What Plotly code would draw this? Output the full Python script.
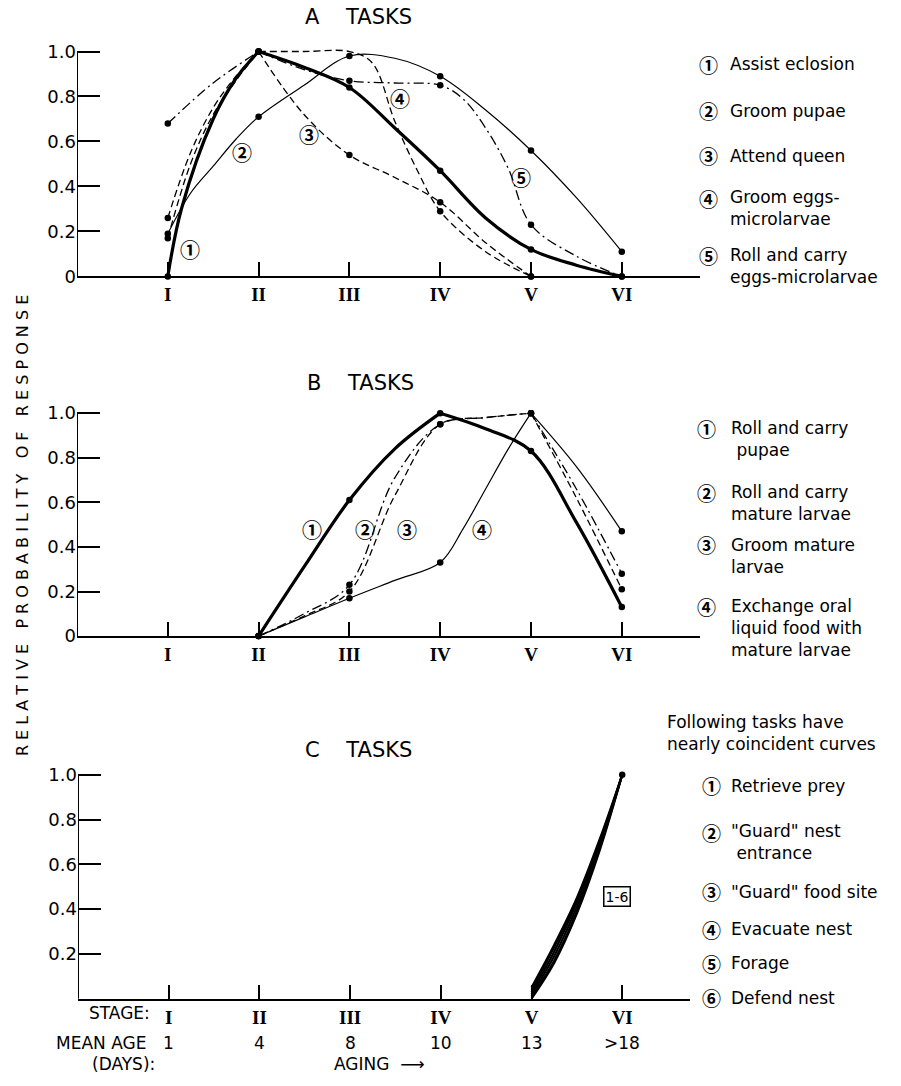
import plotly.graph_objects as go

# ---------------- data ----------------
stage_vals = [1, 2, 3, 4, 5, 6]
stage_labels = ["I", "II", "III", "IV", "V", "VI"]
mean_age = ["1", "4", "8", "10", "13", ">18"]

# Panel A (curves; dots at whole stages)
a1_x = [1, 1.15, 1.5, 1.75, 2, 2.5, 3, 3.5, 4, 4.5, 5, 5.5, 6]
a1_y = [0.0, 0.30, 0.70, 0.88, 1.0, 0.93, 0.84, 0.66, 0.47, 0.26, 0.12, 0.05, 0.0]
a2_x = [1, 1.25, 1.5, 1.75, 2, 2.5, 3, 3.5, 4, 4.5, 5, 5.5, 6]
a2_y = [0.19, 0.37, 0.49, 0.61, 0.71, 0.85, 0.98, 0.97, 0.89, 0.74, 0.56, 0.35, 0.11]
a3_x = [1, 1.25, 1.5, 1.75, 2, 2.5, 3, 3.5, 4, 4.5, 5]
a3_y = [0.26, 0.55, 0.75, 0.89, 1.0, 0.72, 0.54, 0.44, 0.33, 0.15, 0.0]
a4_x = [1, 1.25, 1.5, 1.75, 2, 2.5, 3, 3.25, 3.5, 3.75, 4, 4.5, 5]
a4_y = [0.17, 0.50, 0.72, 0.87, 1.0, 1.0, 1.0, 0.95, 0.69, 0.47, 0.29, 0.11, 0.0]
a5_x = [1, 1.5, 2, 2.5, 3, 3.5, 4, 4.25, 4.5, 4.75, 5, 5.5, 6]
a5_y = [0.68, 0.86, 1.0, 0.92, 0.87, 0.86, 0.85, 0.79, 0.66, 0.48, 0.23, 0.09, 0.0]

# Panel B
b1_x = [2, 2.5, 3, 3.5, 4, 4.5, 5, 5.5, 6]
b1_y = [0.0, 0.31, 0.61, 0.84, 1.0, 0.93, 0.83, 0.51, 0.13]
b2_x = [2, 2.5, 3, 3.5, 4, 4.5, 5, 5.5, 6]
b2_y = [0.0, 0.10, 0.23, 0.71, 0.95, 0.98, 1.0, 0.66, 0.28]
b3_x = [2, 2.5, 3, 3.5, 4, 4.5, 5, 5.5, 6]
b3_y = [0.0, 0.09, 0.20, 0.63, 0.95, 0.98, 1.0, 0.62, 0.21]
b4_x = [2, 2.5, 3, 3.5, 4, 4.25, 4.5, 4.75, 5, 5.5, 6]
b4_y = [0.0, 0.085, 0.17, 0.25, 0.33, 0.48, 0.66, 0.84, 1.0, 0.76, 0.47]

# Panel C (six nearly coincident curves)
c_x = [5, 5.25, 5.5, 5.75, 6]
c1_y = [0.00, 0.16, 0.38, 0.66, 1.0]
c2_y = [0.01, 0.17, 0.39, 0.67, 1.0]
c3_y = [0.02, 0.19, 0.41, 0.68, 1.0]
c4_y = [0.03, 0.21, 0.43, 0.69, 1.0]
c5_y = [0.04, 0.23, 0.44, 0.70, 1.0]
c6_y = [0.05, 0.24, 0.45, 0.71, 1.0]

a_legend = ["Assist eclosion", "Groom pupae", "Attend queen",
            "Groom eggs-<br>microlarvae", "Roll and carry<br>eggs-microlarvae"]
b_legend = ["Roll and carry<br> pupae", "Roll and carry<br>mature larvae",
            "Groom mature<br>larvae", "Exchange oral<br>liquid food with<br>mature larvae"]
c_legend = ["Retrieve prey", "\"Guard\" nest<br> entrance", "\"Guard\" food site",
            "Evacuate nest", "Forage", "Defend nest"]
circ = ["①", "②", "③", "④", "⑤", "⑥"]

# ---------------- styling ----------------
W, H = 901, 1086
FONT = "DejaVu Sans, sans-serif"
CIRC_FONT = "Noto Sans CJK JP, DejaVu Sans, sans-serif"
ROMAN_FONT = "Liberation Serif, serif"
YTOP = 1.08  # a little head-room so curves touching 1.0 are not clipped

def px(x):
    return x / W

def py(y):
    return 1 - y / H

THICK = dict(color="black", width=3.2)
THIN = dict(color="black", width=1.2)
DASH = dict(color="black", width=1.3, dash="7px,4px")
DASHDOT = dict(color="black", width=1.3, dash="10px,4px,2px,4px")

fig = go.Figure()

def add_curve(xs, ys, line, xa, ya, dots=True, skip=(), split=None):
    if split is None:
        parts = [(xs, ys)]
    else:
        k = xs.index(split)
        parts = [(xs[:k + 1], ys[:k + 1]), (xs[k:], ys[k:])]
    for pxs, pys in parts:
        fig.add_trace(go.Scatter(x=pxs, y=pys, mode="lines",
                                 line=dict(shape="spline", smoothing=1.0, **line),
                                 xaxis=xa, yaxis=ya, showlegend=False, hoverinfo="skip"))
    if dots:
        mx = [x for x in xs if float(x).is_integer() and x not in skip]
        my = [y for x, y in zip(xs, ys) if float(x).is_integer() and x not in skip]
        fig.add_trace(go.Scatter(x=mx, y=my, mode="markers", marker=dict(color="black", size=6.5),
                                 xaxis=xa, yaxis=ya, showlegend=False, hoverinfo="skip", cliponaxis=False))

# panel A
add_curve(a2_x, a2_y, THIN, "x", "y")
add_curve(a3_x, a3_y, DASH, "x", "y", split=2)
add_curve(a4_x, a4_y, DASH, "x", "y", skip=(3,), split=2)
add_curve(a5_x, a5_y, DASHDOT, "x", "y", split=2)
add_curve(a1_x, a1_y, THICK, "x", "y", split=2)
# panel B
add_curve(b4_x, b4_y, THIN, "x2", "y2", split=5)
add_curve(b3_x, b3_y, DASH, "x2", "y2", split=5)
add_curve(b2_x, b2_y, DASHDOT, "x2", "y2", split=5)
add_curve(b1_x, b1_y, THICK, "x2", "y2", split=4)
# panel C
for cy in [c1_y, c2_y, c3_y, c4_y, c5_y, c6_y]:
    add_curve(c_x, cy, dict(color="black", width=2.2), "x3", "y3", dots=False)
fig.add_trace(go.Scatter(x=[c_x[-1]], y=[c1_y[-1]], mode="markers", marker=dict(color="black", size=6.5),
                         xaxis="x3", yaxis="y3", showlegend=False, hoverinfo="skip", cliponaxis=False))

# ---------------- axes ----------------
roman_text = ["<b>" + s + "</b>" for s in stage_labels]

def xaxis_cfg(dom, rng, anchor):
    return dict(domain=dom, range=rng, anchor=anchor, showgrid=False, zeroline=False,
                showline=True, linecolor="black", linewidth=2,
                tickmode="array", tickvals=stage_vals, ticktext=roman_text,
                ticks="inside", ticklen=14, tickwidth=1.5, tickcolor="black",
                tickfont=dict(family=ROMAN_FONT, size=19, color="black"), fixedrange=True)

def yaxis_cfg(y0pix, y1pix, anchor, vals, texts):
    top = y0pix - YTOP * (y0pix - y1pix)
    return dict(domain=[py(y0pix), py(top)], range=[0, YTOP], anchor=anchor,
                showgrid=False, zeroline=False, showline=False,
                tickmode="array", tickvals=vals, ticktext=texts,
                ticks="inside", ticklen=23, tickwidth=2, tickcolor="black",
                tickfont=dict(family=FONT, size=18, color="black"), fixedrange=True)

dAx = [px(77), px(700)]
rAx = [0, (700 - 77) / 90.8]
dCx = [px(78), px(690)]
rCx = [0, (690 - 78) / 90.7]

yvals = [0, 0.2, 0.4, 0.6, 0.8, 1.0]
ytexts = ["0", "0.2", "0.4", "0.6", "0.8", "1.0"]

fig.update_layout(
    width=W, height=H, autosize=False, margin=dict(l=0, r=0, t=0, b=0),
    paper_bgcolor="white", plot_bgcolor="white",
    xaxis=xaxis_cfg(dAx, rAx, "y"),
    yaxis=yaxis_cfg(279, 52, "x", yvals, ytexts),
    xaxis2=xaxis_cfg(dAx, rAx, "y2"),
    yaxis2=yaxis_cfg(642, 417, "x2", yvals, ytexts),
    xaxis3=xaxis_cfg(dCx, rCx, "y3"),
    yaxis3=yaxis_cfg(1008, 782, "x3", yvals[1:], ytexts[1:]),
)

# vertical axis lines, running from 0 up to the 1.0 tick
for xr, yr in [("x", "y"), ("x2", "y2"), ("x3", "y3")]:
    fig.add_shape(type="line", xref=xr, yref=yr, x0=0, x1=0, y0=0, y1=1.0,
                  line=dict(color="black", width=2))

ann = []

def txt(x, y, s, size=17, xanchor="left", family=FONT, **kw):
    ann.append(dict(x=px(x), y=py(y), xref="paper", yref="paper", text=s, showarrow=False,
                    xanchor=xanchor, yanchor="middle", align="left",
                    font=dict(family=family, size=size, color="black"), **kw))

# titles
txt(358, 17, "A    TASKS", size=21, xanchor="center")
txt(360, 387, "B    TASKS", size=21, xanchor="center")
txt(358, 757, "C    TASKS", size=21, xanchor="center")

# y title
ann.append(dict(x=px(22), y=py(531), xref="paper", yref="paper",
                text="R E L A T I V E   P R O B A B I L I T Y   O F   R E S P O N S E",
                showarrow=False, textangle=-90, xanchor="center", yanchor="middle",
                font=dict(family=FONT, size=16, color="black")))

def circled(i):
    return "<b>" + circ[i] + "</b>"

def legend_block(xc, xt, first_y, labels, step):
    for i, l in enumerate(labels):
        n = l.count("<br>") + 1
        txt(xc, first_y[i], circled(i), size=19, xanchor="center", family=CIRC_FONT)
        txt(xt, first_y[i] + step * (n - 1) / 2, l)

legend_block(708, 728, [65, 112, 157, 200, 258], a_legend, 20)
legend_block(706, 729, [432, 497, 550, 612], b_legend, 22)
txt(665, 740, "Following tasks have<br>nearly coincident curves", size=17)
legend_block(711, 729, [793, 840, 900, 938, 972, 1007], c_legend, 19)

# in-plot curve labels
def lab(x, y, s, xa, ya, family=CIRC_FONT, size=20, **kw):
    ann.append(dict(x=x, y=y, xref=xa, yref=ya, text=s, showarrow=False,
                    font=dict(family=family, size=size, color="black"), **kw))

a_lab = [(1.245, 0.12), (1.82, 0.55), (2.555, 0.63), (3.56, 0.79), (4.89, 0.44)]
for i, (x, y) in enumerate(a_lab):
    lab(x, y, circled(i), "x", "y")
b_lab = [(2.59, 0.48), (3.17, 0.48), (3.63, 0.48), (4.46, 0.48)]
for i, (x, y) in enumerate(b_lab):
    lab(x, y, circled(i), "x2", "y2")
lab(5.94, 0.455, "1-6", "x3", "y3", family=FONT, size=14,
    bordercolor="black", borderwidth=1.5, borderpad=1)

# bottom labels
txt(152, 1022, "STAGE:", size=17, xanchor="right")
txt(148, 1053, "MEAN AGE", size=17, xanchor="right")
txt(157, 1074, "(DAYS):", size=17, xanchor="right")
for s, a in zip(stage_vals, mean_age):
    ann.append(dict(x=s, y=py(1053), xref="x3", yref="paper", text=a, showarrow=False,
                    xanchor="center", yanchor="middle", font=dict(family=FONT, size=17, color="black")))
txt(332, 1074, "AGING  ⟶", size=17)

fig.update_layout(annotations=ann)
fig.write_html("out.html", config={"responsive": False, "displayModeBar": False},
               post_script="document.body.style.margin='0px';document.body.style.overflow='hidden';")
